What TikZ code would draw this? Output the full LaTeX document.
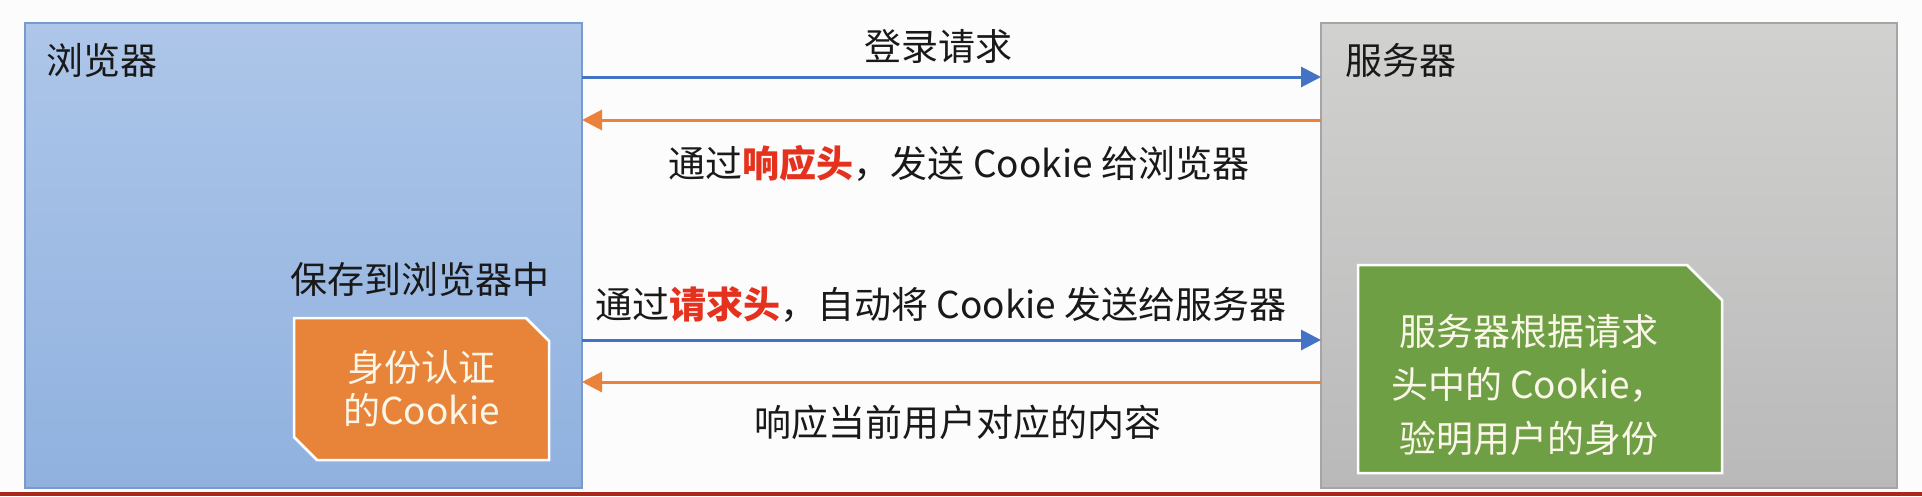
\documentclass[tikz,border=0pt]{standalone}
\usepackage{fontspec}
\setmainfont{Noto Sans CJK SC}
\usetikzlibrary{arrows.meta,calc}
\definecolor{bgc}{RGB}{252,252,252}
\definecolor{redline}{RGB}{170,40,25}
\definecolor{btop}{RGB}{173,198,233}
\definecolor{bbot}{RGB}{144,177,223}
\definecolor{bborder}{RGB}{120,155,205}
\definecolor{stop}{RGB}{209,210,208}
\definecolor{sbot}{RGB}{185,185,185}
\definecolor{sborder}{RGB}{165,165,165}
\definecolor{arrblue}{RGB}{68,114,196}
\definecolor{arrorange}{RGB}{235,130,60}
\definecolor{cookief}{RGB}{232,132,58}
\definecolor{greenf}{RGB}{111,159,69}
\definecolor{hlred}{RGB}{228,50,30}
\definecolor{txt}{RGB}{25,25,25}
\definecolor{boxtxt}{RGB}{250,246,232}
\begin{document}
\begin{tikzpicture}[x=1pt,y=-1pt,
  every node/.style={inner sep=0pt, outer sep=0pt, font=\fontsize{37}{44}\selectfont, text=txt},
  panel/.style={draw, line width=2pt, anchor=north west},
  browserbox/.style={panel, draw=bborder, top color=btop, bottom color=bbot},
  serverbox/.style={panel, draw=sborder, top color=stop, bottom color=sbot},
  reqarrow/.style={draw=arrblue, line width=3pt, -{Triangle[length=20pt,width=20pt,fill=arrblue]}},
  resarrow/.style={draw=arrorange, line width=3pt, -{Triangle[length=20pt,width=20pt,fill=arrorange]}},
  snipframe/.style={anchor=north west},
  snipline/.style={draw=white, line width=2.5pt, line join=miter},
  boxlabel/.style={text=boxtxt, align=center}]
\useasboundingbox (0,0) rectangle (1922,496);
\fill[bgc] (0,0) rectangle (1922,496);
\fill[redline] (0,492) rectangle (1922,496);

% panels
\node[browserbox, minimum width=557pt, minimum height=465pt] (browser) at (25,23) {};
\node[serverbox, minimum width=576pt, minimum height=465pt] (server) at (1321,23) {};
\node[anchor=west] (browsertitle) at (46,60) {浏览器};
\node[anchor=west] (servertitle) at (1345,60) {服务器};

% cookie box (snipped diagonal corners)
\node[snipframe, minimum width=255pt, minimum height=142pt] (cookie) at (294,318) {};
\path[snipline, fill=cookief]
  (cookie.north west) -- ($(cookie.north east)+(-23,0)$) -- ($(cookie.north east)+(0,23)$)
  -- (cookie.south east) -- ($(cookie.south west)+(23,0)$) -- ($(cookie.south west)+(0,-23)$) -- cycle;
\node[boxlabel, font=\fontsize{37}{43}\selectfont] (cookietext) at (cookie.center) {身份认证\\的Cookie};
\node (saved) at (420,279) {保存到浏览器中};

% server verification box (snipped top-right corner)
\node[snipframe, minimum width=364pt, minimum height=208pt] (verify) at (1358,265) {};
\path[snipline, fill=greenf]
  (verify.north west) -- ($(verify.north east)+(-35,0)$) -- ($(verify.north east)+(0,35)$)
  -- (verify.south east) -- (verify.south west) -- cycle;
\node[boxlabel, font=\fontsize{37}{53.5}\selectfont] (verifytext) at (1529,385) {服务器根据请求\\头中的 Cookie，\\验明用户的身份};

% arrow levels
\coordinate (y1) at (0,77);
\coordinate (y2) at (0,120);
\coordinate (y3) at (0,340);
\coordinate (y4) at (0,382);

\draw[reqarrow] (browser.east |- y1) -- (server.west |- y1);
\draw[resarrow] (server.west |- y2) -- (browser.east |- y2);
\draw[reqarrow] (browser.east |- y3) -- (server.west |- y3);
\draw[resarrow] (server.west |- y4) -- (browser.east |- y4);

% arrow labels
\node (lbl1) at (938,46) {登录请求};
\node (lbl2) at (959,163) {通过\textcolor{hlred}{\textbf{响应头}}，发送 Cookie 给浏览器};
\node (lbl3) at (941,305) {通过\textcolor{hlred}{\textbf{请求头}}，自动将 Cookie 发送给服务器};
\node (lbl4) at (958,422) {响应当前用户对应的内容};
\end{tikzpicture}
\end{document}
